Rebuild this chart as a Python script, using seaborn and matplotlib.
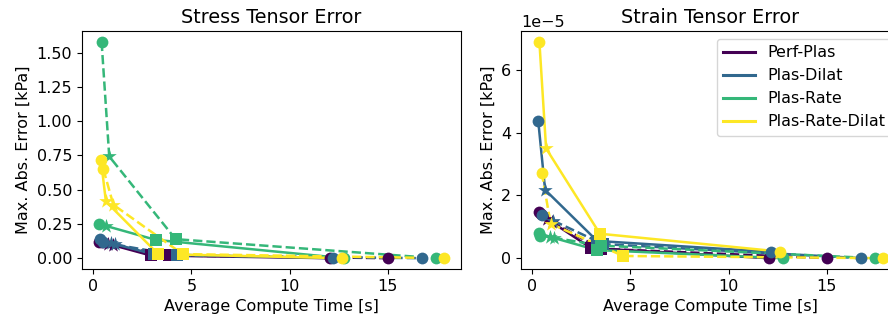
import numpy as np
import seaborn as sns
import matplotlib.pyplot as plt
from matplotlib.lines import Line2D

MODELS = ["Perf-Plas", "Plas-Dilat", "Plas-Rate", "Plas-Rate-Dilat"]

# marker used at each point along a line
POINT_MARKERS = ["o", "*", "s", "o"]

# stress error [kPa] vs average compute time [s]
STRESS_T_SOLID = [[0.30, 0.75, 2.92, 12.05],
                  [0.35, 0.90, 3.10, 12.20],
                  [0.30, 0.63, 3.17, 12.75],
                  [0.39, 0.64, 3.30, 12.65]]
STRESS_E_SOLID = [[0.121, 0.105, 0.020, 0.000],
                  [0.139, 0.110, 0.028, 0.000],
                  [0.250, 0.236, 0.134, 0.000],
                  [0.714, 0.414, 0.030, 0.000]]
STRESS_T_DASH = [[0.45, 1.00, 3.85, 15.03],
                 [0.50, 1.10, 4.27, 16.75],
                 [0.42, 0.81, 4.19, 17.45],
                 [0.51, 1.02, 4.55, 17.85]]
STRESS_E_DASH = [[0.115, 0.095, 0.020, 0.000],
                 [0.120, 0.100, 0.020, 0.000],
                 [1.580, 0.743, 0.139, 0.000],
                 [0.650, 0.390, 0.030, 0.000]]

# strain error (x1e-5) vs average compute time [s]
STRAIN_T_SOLID = [[0.35, 0.75, 3.00, 12.05],
                  [0.30, 0.65, 3.30, 12.17],
                  [0.35, 0.90, 3.27, 12.75],
                  [0.36, 0.70, 3.44, 12.63]]
STRAIN_E_SOLID = [[1.48, 1.25, 0.32, 0.00],
                  [4.38, 2.18, 0.55, 0.20],
                  [0.80, 0.68, 0.26, 0.00],
                  [6.90, 3.50, 0.78, 0.21]]
STRAIN_T_DASH = [[0.42, 1.00, 3.50, 15.03],
                 [0.48, 1.05, 3.60, 16.75],
                 [0.40, 1.10, 3.50, 17.45],
                 [0.48, 0.93, 4.63, 17.85]]
STRAIN_E_DASH = [[1.40, 1.15, 0.30, 0.00],
                 [1.38, 1.20, 0.45, 0.00],
                 [0.72, 0.65, 0.40, 0.00],
                 [2.73, 1.10, 0.07, 0.00]]
STRAIN_SCALE = 1e-5

plt.rcParams["font.family"] = ["DejaVu Sans"]
plt.rcParams["font.size"] = 11.5
plt.rcParams["axes.titlesize"] = 13.8

colors = plt.cm.viridis(np.linspace(0, 1, len(MODELS)))

fig = plt.figure(figsize=(8.88, 3.22), dpi=100)
ax1 = fig.add_axes([82 / 888, 53 / 322, 379 / 888, 238 / 322])
ax2 = fig.add_axes([521 / 888, 53 / 322, 379 / 888, 238 / 322])


def draw_line(ax, t, e, color, ls):
    sns.lineplot(x=t, y=e, ax=ax, color=color, linestyle=ls, lw=1.8,
                 sort=False, estimator=None)
    for m in set(POINT_MARKERS):
        idx = [i for i, pm in enumerate(POINT_MARKERS) if pm == m]
        size = 120 if m == "*" else 72
        sns.scatterplot(x=[t[i] for i in idx], y=[e[i] for i in idx], ax=ax,
                        color=color, marker=m, s=size, linewidth=0, zorder=3)


for k in range(len(MODELS)):
    c = colors[k]
    draw_line(ax1, STRESS_T_SOLID[k], STRESS_E_SOLID[k], c, "-")
    draw_line(ax1, STRESS_T_DASH[k], STRESS_E_DASH[k], c, "--")
    draw_line(ax2, STRAIN_T_SOLID[k],
              [v * STRAIN_SCALE for v in STRAIN_E_SOLID[k]], c, "-")
    draw_line(ax2, STRAIN_T_DASH[k],
              [v * STRAIN_SCALE for v in STRAIN_E_DASH[k]], c, "--")

ax1.set_title("Stress Tensor Error")
ax2.set_title("Strain Tensor Error")
for ax in (ax1, ax2):
    ax.set_xlabel("Average Compute Time [s]")
    ax.set_ylabel("Max. Abs. Error [kPa]")
    ax.set_xticks([0, 5, 10, 15])

handles = [Line2D([], [], color=colors[k], lw=2.2) for k in range(len(MODELS))]
ax2.legend(handles, MODELS, loc="upper right")

fig.savefig("out.png", dpi=100)
